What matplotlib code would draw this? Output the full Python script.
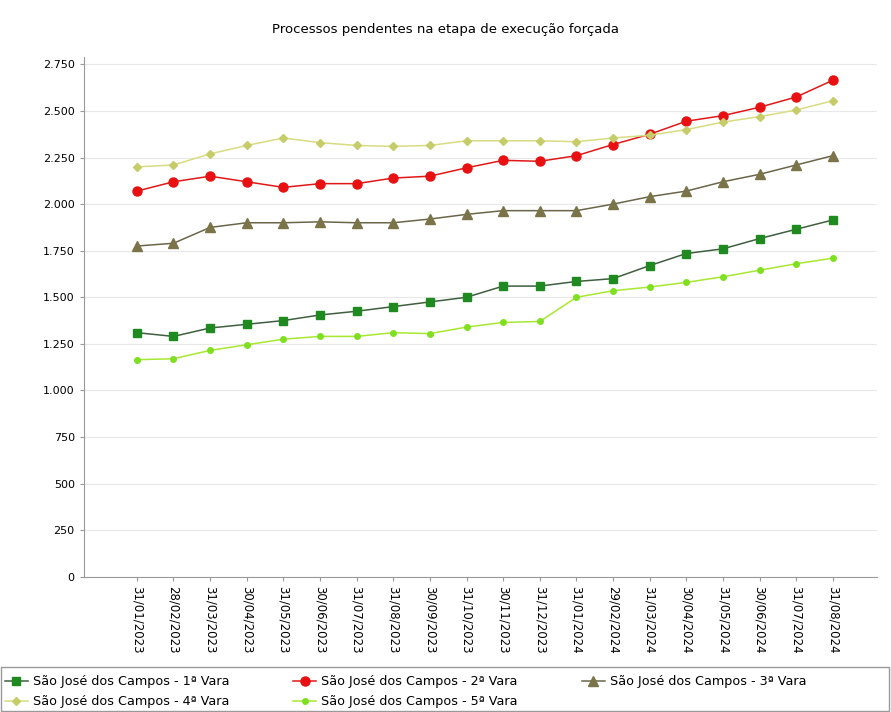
import numpy as np
import matplotlib
matplotlib.use('Agg')
import matplotlib.pyplot as plt
from matplotlib.ticker import FuncFormatter
from matplotlib.patches import Rectangle

plt.rcParams['font.family'] = ['DejaVu Sans']

datas = ['31/01/2023', '28/02/2023', '31/03/2023', '30/04/2023', '31/05/2023',
         '30/06/2023', '31/07/2023', '31/08/2023', '30/09/2023', '31/10/2023',
         '30/11/2023', '31/12/2023', '31/01/2024', '29/02/2024', '31/03/2024',
         '30/04/2024', '31/05/2024', '30/06/2024', '31/07/2024', '31/08/2024']

vara1 = [1310, 1290, 1335, 1355, 1375, 1405, 1425, 1450, 1475, 1500,
         1560, 1560, 1585, 1600, 1670, 1735, 1760, 1815, 1865, 1915]
vara2 = [2070, 2120, 2150, 2120, 2090, 2110, 2110, 2140, 2150, 2195,
         2235, 2230, 2260, 2320, 2375, 2445, 2475, 2520, 2575, 2665]
vara3 = [1775, 1790, 1875, 1900, 1900, 1905, 1900, 1900, 1920, 1945,
         1965, 1965, 1965, 2000, 2040, 2070, 2120, 2160, 2210, 2260]
vara4 = [2200, 2210, 2270, 2315, 2355, 2330, 2315, 2310, 2315, 2340,
         2340, 2340, 2335, 2355, 2370, 2400, 2440, 2470, 2505, 2555]
vara5 = [1165, 1170, 1215, 1245, 1275, 1290, 1290, 1310, 1305, 1340,
         1365, 1370, 1500, 1535, 1555, 1580, 1610, 1645, 1680, 1710]

nomes = ['São José dos Campos - 1ª Vara', 'São José dos Campos - 2ª Vara',
         'São José dos Campos - 3ª Vara', 'São José dos Campos - 4ª Vara',
         'São José dos Campos - 5ª Vara']

x = np.arange(len(datas))

fig = plt.figure(figsize=(8.91, 7.12), dpi=100)
ax = fig.add_axes([0.094, 0.19, 0.89, 0.73])

# series: (values, line colour, marker, marker colour, size)
series = [
    (vara1, '#3f5f3f', 's', '#1f8a1f', 5.5),
    (vara2, '#e01818', 'o', '#e81010', 6.5),
    (vara3, '#6a664a', '^', '#7a7448', 6.5),
    (vara4, '#d8dc80', 'D', '#c6cc6a', 4),
    (vara5, '#a8e830', 'o', '#7ee020', 4),
]
linhas = []
for (vals, lc, mk, mc, ms), nome in zip(series, nomes):
    l, = ax.plot(x, vals, color=lc, lw=1.1, marker=mk, markersize=ms,
                 markerfacecolor=mc, markeredgecolor=mc, label=nome)
    linhas.append(l)

ax.set_xlim(-1.45, 20.2)
ax.set_ylim(0, 2790)
ax.set_yticks(np.arange(0, 2751, 250))
ax.yaxis.set_major_formatter(FuncFormatter(lambda v, p: f'{int(v):,}'.replace(',', '.')))
ax.set_xticks(x)
ax.set_xticklabels(datas, rotation=-90, fontsize=8.5)
ax.tick_params(axis='y', labelsize=8, length=3, color='#999999')
ax.tick_params(axis='x', length=3, color='#999999')
ax.grid(axis='y', color='#e8e8e8', lw=0.8)
ax.set_axisbelow(True)
for s in ['top', 'right']:
    ax.spines[s].set_visible(False)
for s in ['left', 'bottom']:
    ax.spines[s].set_color('#999999')

fig.suptitle('Processos pendentes na etapa de execução forçada', y=0.968, fontsize=9.5)

# legend filled row by row: 1,2,3 / 4,5
ordem = [0, 3, 1, 4, 2]
fig.legend([linhas[i] for i in ordem], [nomes[i] for i in ordem],
           loc='lower left', bbox_to_anchor=(-0.002, -0.004), ncol=3,
           fontsize=9.2, frameon=False, handlelength=1.8, handletextpad=0.4,
           columnspacing=5.0, labelspacing=0.55, borderaxespad=0.1)
fig.patches.append(Rectangle((0.001, 0.001), 0.997, 0.062, transform=fig.transFigure,
                             fill=False, edgecolor='#999999', lw=1.0))

fig.savefig('out.png', dpi=100)
